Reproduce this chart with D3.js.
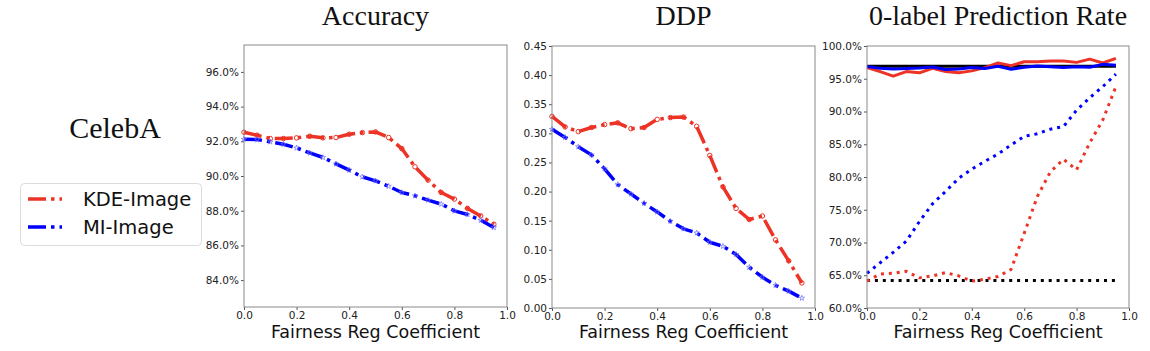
<!DOCTYPE html>
<html>
<head>
<meta charset="utf-8">
<script src="https://cdn.jsdelivr.net/npm/d3@7"></script>
<style>
  body { margin: 0; background: #fff; }
  .tick text { font-family: "DejaVu Sans", sans-serif; font-size: 10.5px; fill: #222; }
  .tick line { stroke: #555; }
  .title { font-family: "Liberation Serif", serif; font-size: 28px; fill: #111; }
  .xlabel { font-family: "DejaVu Sans", sans-serif; font-size: 17.5px; fill: #111; }
  .legend text { font-family: "DejaVu Sans", sans-serif; font-size: 19.5px; fill: #111; }
</style>
</head>
<body>
<div id="chart-area"></div>
<script>

// Data (x = fairness reg coefficient)
var coef = [0, 0.05, 0.1, 0.15, 0.2, 0.25, 0.3, 0.35, 0.4, 0.45, 0.5, 0.55, 0.6, 0.65, 0.7, 0.75, 0.8, 0.85, 0.9, 0.95];

// Accuracy (%)
var accKDE = [92.52, 92.35, 92.16, 92.16, 92.2, 92.29, 92.2, 92.22, 92.41, 92.5, 92.54, 92.22, 91.58, 90.53, 89.76, 89.05, 88.67, 88.13, 87.7, 87.22];
var accMI  = [92.12, 92.1, 91.97, 91.83, 91.62, 91.33, 91.07, 90.7, 90.34, 89.95, 89.72, 89.41, 89.05, 88.86, 88.61, 88.38, 87.99, 87.78, 87.45, 87.03];

// DDP
var ddpKDE = [0.329, 0.311, 0.303, 0.310, 0.315, 0.318, 0.308, 0.310, 0.324, 0.327, 0.328, 0.312, 0.262, 0.208, 0.171, 0.152, 0.158, 0.117, 0.081, 0.043];
var ddpMI  = [0.307, 0.293, 0.277, 0.263, 0.239, 0.212, 0.196, 0.180, 0.165, 0.149, 0.136, 0.129, 0.113, 0.106, 0.092, 0.070, 0.053, 0.039, 0.029, 0.017];

// 0-label prediction rate (%)
var rateKDE    = [96.7, 96.1, 95.4, 96.1, 95.9, 96.6, 96.1, 95.9, 96.2, 96.7, 97.4, 97.0, 97.6, 97.6, 97.7, 97.7, 97.5, 98.0, 97.4, 98.1];
var rateMI     = [96.85, 96.6, 96.5, 96.55, 96.65, 96.8, 96.4, 96.5, 96.7, 96.55, 96.9, 96.45, 96.75, 96.95, 96.85, 96.7, 96.85, 96.75, 97.2, 97.05];
var rateKDEDot = [64.1, 65.2, 65.3, 65.6, 64.6, 64.9, 65.4, 64.9, 64.1, 64.4, 64.8, 65.9, 71.4, 77.0, 80.8, 82.7, 81.1, 85.2, 88.7, 93.8];
var rateMIDot  = [65.3, 66.9, 68.5, 70.2, 73.2, 75.9, 77.8, 79.8, 81.2, 82.4, 83.5, 84.9, 86.2, 86.6, 87.3, 87.7, 90.2, 92.1, 93.8, 95.7];
var rateBase    = [96.9, 96.9, 96.9, 96.9, 96.9, 96.9, 96.9, 96.9, 96.9, 96.9, 96.9, 96.9, 96.9, 96.9, 96.9, 96.9, 96.9, 96.9, 96.9, 96.9];
var rateBaseDot = [64.2, 64.2, 64.2, 64.2, 64.2, 64.2, 64.2, 64.2, 64.2, 64.2, 64.2, 64.2, 64.2, 64.2, 64.2, 64.2, 64.2, 64.2, 64.2, 64.2];

// Tick values
var xTicks = [0, 0.2, 0.4, 0.6, 0.8, 1.0];
var accTicks = [84, 86, 88, 90, 92, 94, 96];
var ddpTicks = [0, 0.05, 0.1, 0.15, 0.2, 0.25, 0.3, 0.35, 0.4, 0.45];
var rateTicks = [60, 65, 70, 75, 80, 85, 90, 95, 100];

var titles = ["Accuracy", "DDP", "0-label Prediction Rate"];
var seriesNames = ["KDE-Image", "MI-Image"];

var RED = "#ec3326", BLUE = "#0000ff";
var dashDot = "18,5,3.5,5";
var dotted = "3,4.9";

var svg = d3.select("#chart-area").append("svg")
    .attr("width", 1150)
    .attr("height", 351);

var pct = d => d.toFixed(1) + "%";

var panels = [
  { left: 244, top: 45, w: 263, h: 262, domain: [82.45, 97.55], ticks: accTicks, fmt: pct,
    series: [
      { vals: accKDE, color: RED, dash: dashDot, lw: 3.5, marker: "circle" },
      { vals: accMI, color: BLUE, dash: dashDot, lw: 3.5, marker: "star" }
    ] },
  { left: 552, top: 46, w: 263, h: 262, domain: [0, 0.45], ticks: ddpTicks, fmt: d3.format(".2f"),
    series: [
      { vals: ddpKDE, color: RED, dash: dashDot, lw: 3.5, marker: "circle" },
      { vals: ddpMI, color: BLUE, dash: dashDot, lw: 3.5, marker: "star" }
    ] },
  { left: 867, top: 46, w: 262, h: 262, domain: [60, 100], ticks: rateTicks, fmt: pct,
    series: [
      { vals: rateBase, color: "#000", dash: null, lw: 3 },
      { vals: rateBaseDot, color: "#000", dash: dotted, lw: 3 },
      { vals: rateKDEDot, color: RED, dash: dotted, lw: 3 },
      { vals: rateMIDot, color: BLUE, dash: dotted, lw: 3 },
      { vals: rateKDE, color: RED, dash: null, lw: 3 },
      { vals: rateMI, color: BLUE, dash: null, lw: 3 }
    ] }
];

panels.forEach(function(p, i) {
  var g = svg.append("g").attr("transform", `translate(${p.left},${p.top})`);

  var x = d3.scaleLinear().domain([0, 1]).range([0, p.w]);
  var y = d3.scaleLinear().domain(p.domain).range([p.h, 0]);

  g.append("g")
      .attr("transform", `translate(0,${p.h})`)
      .call(d3.axisBottom(x).tickValues(xTicks).tickFormat(d3.format(".1f")).tickSize(3).tickPadding(2))
      .call(a => a.select(".domain").remove());

  g.append("g")
      .call(d3.axisLeft(y).tickValues(p.ticks).tickFormat(p.fmt).tickSize(3).tickPadding(2))
      .call(a => a.select(".domain").remove());

  var line = d3.line()
      .x((d, k) => x(coef[k]))
      .y(d => y(d));

  p.series.forEach(function(s) {
    g.append("path")
        .datum(s.vals)
        .attr("d", line)
        .attr("fill", "none")
        .attr("stroke", s.color)
        .attr("stroke-width", s.lw)
        .attr("stroke-dasharray", s.dash)
        .attr("stroke-linejoin", "round");

    if (s.marker) {
      var isCircle = s.marker == "circle";
      var sym = d3.symbol().type(isCircle ? d3.symbolCircle : d3.symbolStar).size(isCircle ? 16 : 9);
      g.selectAll(null)
          .data(s.vals)
          .join("path")
          .attr("transform", (d, k) => `translate(${x(coef[k])},${y(d)})`)
          .attr("d", sym)
          .attr("fill", "none")
          .attr("stroke", isCircle ? s.color : "#6c6cff")
          .attr("stroke-width", isCircle ? 1 : 0.7);
    }
  });

  // frame
  g.append("rect")
      .attr("width", p.w)
      .attr("height", p.h)
      .attr("fill", "none")
      .attr("stroke", "#8a8a8a")
      .attr("stroke-width", 1);

  g.append("text")
      .attr("class", "title")
      .attr("x", p.w / 2)
      .attr("y", 25 - p.top)
      .attr("text-anchor", "middle")
      .text(titles[i]);

  g.append("text")
      .attr("class", "xlabel")
      .attr("x", p.w / 2)
      .attr("y", 338 - p.top)
      .attr("text-anchor", "middle")
      .text("Fairness Reg Coefficient");
});

// row label
svg.append("text")
    .attr("class", "title")
    .attr("x", 115)
    .attr("y", 138)
    .attr("text-anchor", "middle")
    .style("font-size", "30px")
    .text("CelebA");

// legend
var legend = svg.append("g").attr("class", "legend");
legend.append("rect")
    .attr("x", 20.5).attr("y", 183.5)
    .attr("width", 181).attr("height", 62)
    .attr("rx", 4)
    .attr("fill", "#fff")
    .attr("stroke", "#dcdcdc");

[RED, BLUE].forEach(function(c, i) {
  var ly = 199 + i * 28;
  legend.append("line")
      .attr("x1", 28).attr("x2", 62)
      .attr("y1", ly).attr("y2", ly)
      .attr("stroke", c)
      .attr("stroke-width", 3.5)
      .attr("stroke-dasharray", dashDot);
  legend.append("text")
      .attr("x", 83)
      .attr("y", ly + 7)
      .text(seriesNames[i]);
});

</script>
</body>
</html>
